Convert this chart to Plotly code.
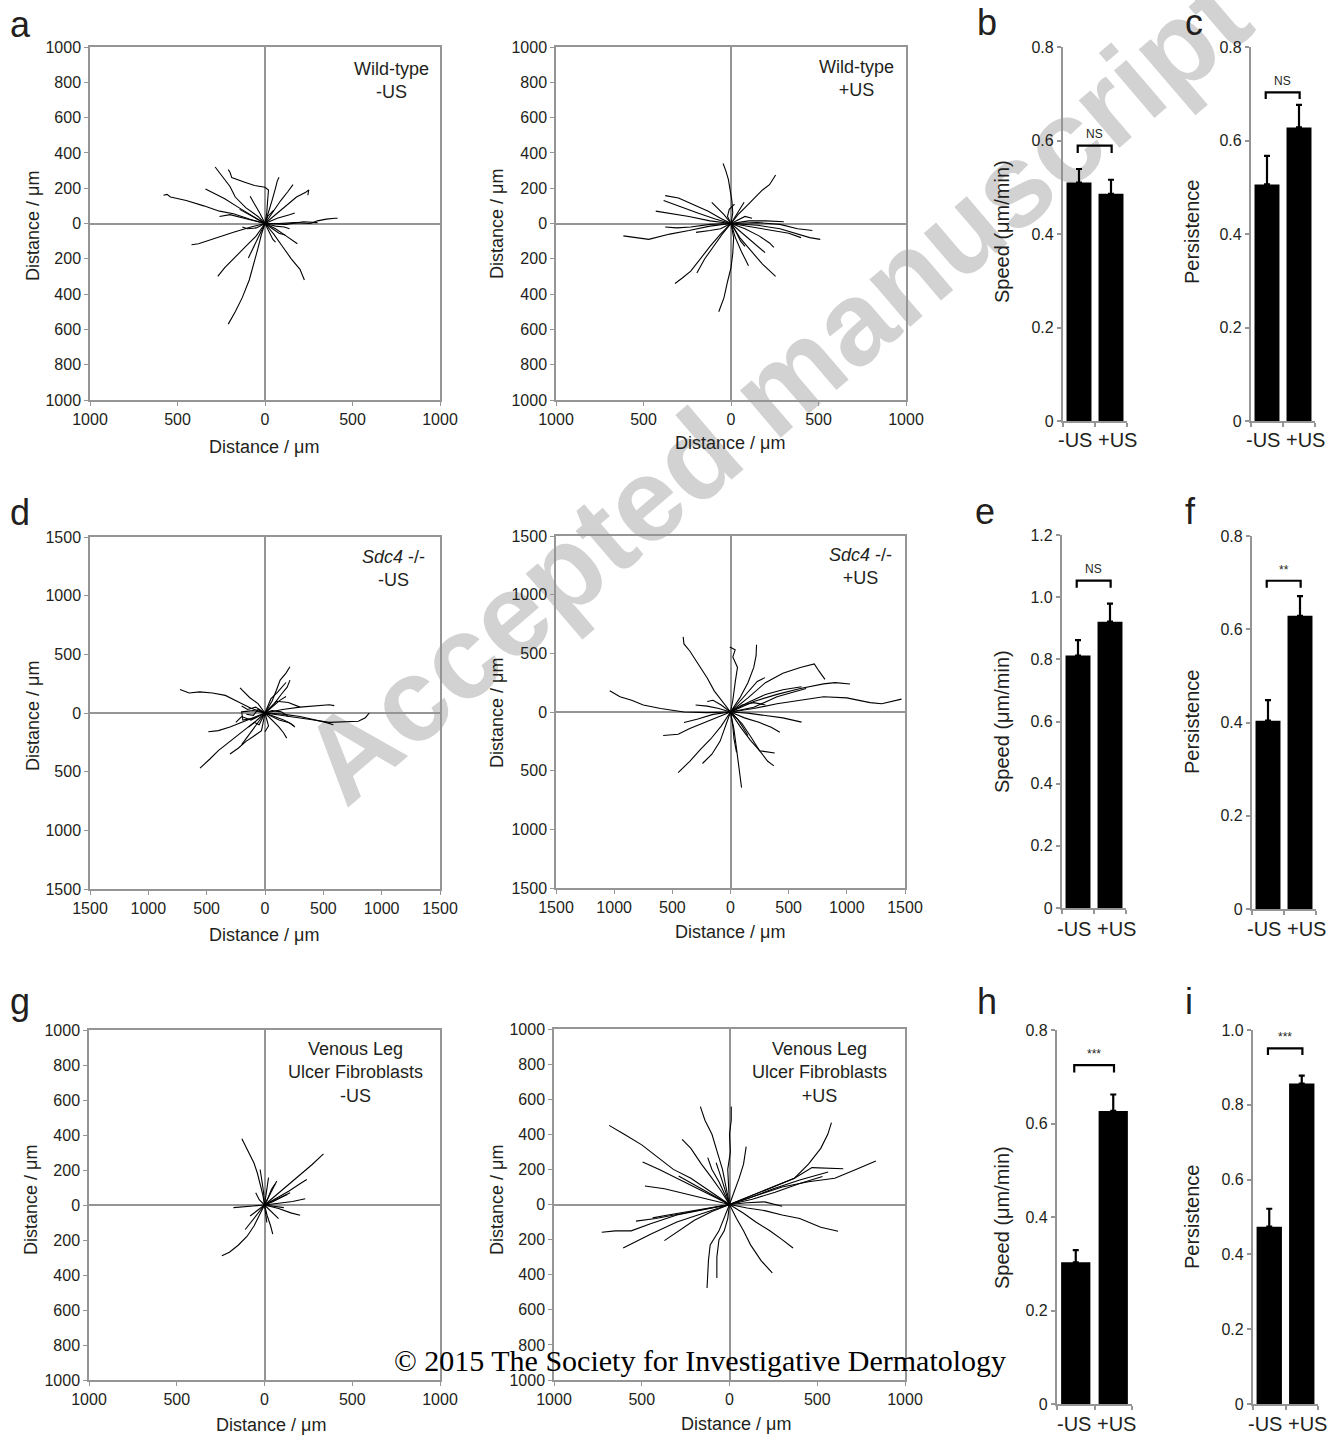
import plotly.graph_objects as go

W, H = 1329, 1439
FONT = "Liberation Sans, Arial, sans-serif"
SERIF = "Liberation Serif, Times New Roman, serif"
GRAY = "#959595"
TXT = "#231f20"
WM = "#d2d2d2"

# ---------------- cell tracks (x, y) in micrometres ----------------
TRACKS_WT_NEG = [
    [(0,0),(-90,25),(-180,55),(-260,70),(-350,100),(-450,130),(-540,150),(-560,165),(-580,160)],
    [(0,0),(-40,40),(-110,90),(-170,150),(-200,210),(-240,260),(-270,300),(-285,320)],
    [(0,0),(10,60),(15,130),(20,190),(0,205),(-60,215),(-120,235),(-190,260),(-200,290),(-210,305)],
    [(0,0),(-70,40),(-150,90),(-230,140),(-300,175),(-340,195)],
    [(0,0),(20,60),(40,130),(60,200),(70,240),(80,262)],
    [(0,0),(40,60),(90,130),(130,180),(160,220)],
    [(0,0),(60,50),(130,110),(180,150),(230,175),(250,190),(245,160)],
    [(0,0),(80,0),(170,5),(260,0),(300,15),(350,25),(400,30),(415,30)],
    [(0,0),(60,-30),(120,-70),(160,-95),(185,-115)],
    [(0,0),(50,-60),(100,-130),(150,-200),(200,-260),(225,-320)],
    [(0,0),(-20,-60),(-40,-140),(-70,-250),(-90,-320),(-130,-420),(-170,-500),(-210,-570)],
    [(0,0),(-50,-70),(-110,-130),(-170,-190),(-230,-250),(-270,-300)],
    [(0,0),(-80,-20),(-180,-50),(-260,-75),(-330,-100),(-380,-115),(-420,-120)],
    [(0,0),(-30,-60),(-60,-120),(-80,-160),(-95,-195)],
    [(0,0),(-30,60),(-60,110),(-85,155)],
    [(0,0),(-60,35),(-110,60),(-145,80)],
    [(0,0),(60,-15),(110,-20),(140,-30)],
    [(0,0),(120,-5),(220,10),(300,5)],
    [(0,0),(40,-30),(80,-55),(115,-65)],
    [(0,0),(15,40),(35,60),(50,75)],
    [(0,0),(-50,-25),(-100,-30),(-130,-20)],
    [(0,0),(25,-50),(45,-90),(60,-105)],
    [(0,0),(-40,10),(-90,20),(-200,50),(-260,40)],
    [(0,0),(70,30),(140,50),(170,60)],
]

TRACKS_WT_POS = [
    [(0,0),(10,60),(5,130),(-5,190),(-15,250),(-30,300),(-45,340)],
    [(0,0),(40,50),(90,100),(140,150),(180,190),(220,220),(245,255),(255,275)],
    [(0,0),(-120,-15),(-240,-40),(-350,-60),(-470,-90),(-560,-80),(-615,-70)],
    [(0,0),(-60,30),(-130,70),(-220,110),(-300,145),(-376,158)],
    [(0,0),(-90,25),(-190,60),(-290,95),(-340,115),(-385,130)],
    [(0,0),(-120,15),(-240,40),(-340,55),(-430,70)],
    [(0,0),(-120,-5),(-230,-20),(-310,-25),(-376,-20)],
    [(0,0),(-60,-60),(-120,-130),(-180,-210),(-230,-270),(-280,-310),(-320,-340)],
    [(0,0),(-50,-60),(-100,-130),(-150,-200),(-195,-280)],
    [(0,0),(15,-80),(10,-170),(0,-250),(-20,-330),(-40,-420),(-70,-500)],
    [(0,0),(50,-80),(110,-150),(180,-230),(255,-300)],
    [(0,0),(25,-80),(60,-160),(100,-240)],
    [(0,0),(60,-50),(120,-100),(170,-140),(195,-165)],
    [(0,0),(80,-30),(160,-70),(220,-110),(245,-135)],
    [(0,0),(150,-10),(280,-30),(390,-60),(450,-80),(510,-90)],
    [(0,0),(150,5),(280,-5),(380,-30),(430,-35),(465,-40)],
    [(0,0),(120,-20),(240,-40),(330,-55),(400,-80)],
    [(0,0),(100,15),(200,15),(302,10)],
    [(0,0),(30,50),(55,90),(75,120)],
    [(0,0),(-40,50),(-80,90),(-110,120)],
    [(0,0),(30,-50),(55,-100),(80,-130)],
    [(0,0),(-60,-30),(-120,-40),(-200,-50)],
    [(0,0),(40,20),(80,40),(120,30)],
    [(0,0),(-20,40),(-10,80),(20,110)],
]

TRACKS_SDC4_NEG = [
    [(0,0),(-120,40),(-240,100),(-340,150),(-450,170),(-560,180),(-650,170),(-729,200)],
    [(0,0),(-80,-70),(-170,-140),(-250,-200),(-330,-260),(-400,-320),(-470,-390),(-557,-470)],
    [(0,0),(-100,-40),(-200,-80),(-300,-120),(-400,-150),(-486,-160)],
    [(0,0),(-60,-80),(-120,-160),(-170,-220),(-200,-270)],
    [(0,0),(150,-20),(300,-40),(420,-60),(550,-80),(700,-75),(800,-70),(860,-40),(894,0)],
    [(0,0),(150,-10),(300,-30),(450,-60),(520,-80),(586,-100)],
    [(0,0),(150,30),(300,50),(450,60),(550,70),(594,63)],
    [(0,0),(60,100),(100,200),(130,280),(180,340),(214,394)],
    [(0,0),(80,80),(140,160),(190,220),(214,280)],
    [(0,0),(-60,80),(-130,130),(-180,180),(-214,214)],
    [(0,0),(60,-60),(120,-120),(160,-170),(186,-214)],
    [(0,0),(80,-30),(160,-60),(220,-90),(257,-120)],
    [(0,0),(20,-60),(30,-110),(0,-160)],
    [(0,0),(-100,20),(-200,10),(-190,-60),(-80,-40)],
    [(0,0),(100,100),(200,90),(300,50)],
    [(0,0),(-80,50),(-150,30),(-200,60)],
    [(0,0),(120,-60),(200,-80),(250,-110)],
    [(0,0),(70,60),(130,110),(180,140)],
    [(0,0),(-50,-100),(-90,-80),(-140,-120)],
    [(0,0),(50,120),(110,180),(180,260)],
    [(0,0),(-120,-60),(-200,-30),(-250,-80)],
    [(0,0),(60,20),(140,10),(200,-30)],
    [(0,0),(-60,30),(-100,-20),(-160,-10)],
    [(0,0),(-30,-150),(-100,-200),(-160,-240),(-230,-300),(-300,-350)],
]

TRACKS_SDC4_POS = [
    [(0,0),(200,30),(400,70),(600,100),(800,130),(1000,120),(1200,80),(1300,70),(1400,95),(1470,110)],
    [(0,0),(200,90),(400,150),(600,200),(800,240),(900,250),(1027,238)],
    [(0,0),(150,120),(300,250),(450,330),(600,380),(720,410),(760,350),(812,278)],
    [(0,0),(150,80),(300,150),(450,190),(611,215)],
    [(0,0),(-200,-5),(-400,0),(-600,30),(-750,60),(-850,100),(-950,130),(-1038,181)],
    [(0,0),(-120,-50),(-250,-100),(-350,-140),(-450,-190),(-579,-200)],
    [(0,0),(-80,-120),(-170,-230),(-260,-320),(-350,-420),(-450,-516)],
    [(0,0),(-40,-120),(-90,-250),(-160,-360),(-241,-439)],
    [(0,0),(-60,80),(-140,180),(-200,290),(-270,400),(-350,520),(-400,580),(-407,640)],
    [(0,0),(20,100),(40,250),(60,380),(20,470),(40,530),(-6,553)],
    [(0,0),(80,120),(150,250),(200,380),(220,480),(224,574)],
    [(0,0),(80,90),(160,180),(230,260),(295,293)],
    [(0,0),(30,-150),(50,-300),(70,-450),(95,-645)],
    [(0,0),(80,-120),(170,-240),(250,-330),(320,-420),(373,-459)],
    [(0,0),(120,-50),(250,-90),(350,-130),(424,-172)],
    [(0,0),(150,-10),(300,-30),(450,-50),(611,-86)],
    [(0,0),(20,-120),(30,-230),(52,-344)],
    [(0,0),(-100,30),(-200,50),(-300,60)],
    [(0,0),(-150,-20),(-280,-60),(-400,-90)],
    [(0,0),(100,-100),(180,-220),(250,-330),(380,-350)],
    [(0,0),(100,60),(200,80),(300,60)],
    [(0,0),(-80,60),(-150,100),(-200,90)],
    [(0,0),(60,-60),(100,-120),(150,-200)],
    [(0,0),(200,40),(400,130),(550,170),(650,200)],
]

TRACKS_VLU_NEG = [
    [(0,0),(-10,60),(-25,120),(-40,180),(-60,240),(-90,300),(-115,350),(-129,378)],
    [(0,0),(60,50),(130,110),(200,170),(270,230),(336,292)],
    [(0,0),(70,40),(140,80),(200,120),(241,146)],
    [(0,0),(80,10),(160,20),(232,36)],
    [(0,0),(80,-20),(150,-45),(203,-59)],
    [(0,0),(-30,-60),(-60,-120),(-100,-180),(-150,-230),(-200,-270),(-243,-290)],
    [(0,0),(-60,-5),(-120,-10),(-177,-15)],
    [(0,0),(15,-60),(35,-120),(47,-167)],
    [(0,0),(-5,70),(-15,140),(-25,203)],
    [(0,0),(10,80),(23,156)],
    [(0,0),(30,60),(50,100),(70,137)],
    [(0,0),(70,35),(146,70)],
    [(0,0),(-40,-30),(-82,-63)],
    [(0,0),(40,-40),(80,-78)],
    [(0,0),(-40,-50),(-80,-100),(-110,-140)],
    [(0,0),(5,-50),(13,-100)],
    [(0,0),(50,20),(100,45),(130,60)],
    [(0,0),(-30,30),(-50,70)],
    [(0,0),(60,-10),(110,-15)],
    [(0,0),(20,40),(40,90),(60,120)],
]

TRACKS_VLU_POS = [
    [(0,0),(-120,80),(-220,150),(-320,200),(-420,280),(-500,340),(-600,400),(-686,451)],
    [(0,0),(-120,60),(-220,110),(-320,160),(-400,200),(-495,242)],
    [(0,0),(-120,30),(-250,60),(-370,90),(-482,105)],
    [(0,0),(-80,45),(-150,80),(-220,120),(-290,162)],
    [(0,0),(-20,100),(-40,200),(-70,300),(-100,400),(-140,480),(-166,558)],
    [(0,0),(-50,80),(-100,150),(-160,230),(-220,320),(-270,371)],
    [(0,0),(-30,70),(-60,130),(-100,200),(-124,267)],
    [(0,0),(-20,70),(-40,130),(-60,190),(-76,238)],
    [(0,0),(-5,100),(-10,200),(5,300),(0,400),(10,480),(10,558)],
    [(0,0),(30,80),(55,150),(80,230),(95,330)],
    [(0,0),(120,50),(250,100),(370,150),(450,230),(520,320),(560,400),(581,467)],
    [(0,0),(120,50),(250,100),(370,150),(470,210),(560,205),(648,204)],
    [(0,0),(150,50),(300,100),(450,130),(600,150),(720,200),(834,248)],
    [(0,0),(120,40),(250,90),(400,140),(562,185)],
    [(0,0),(100,-20),(200,-35),(300,-60),(400,-80),(520,-130),(619,-152)],
    [(0,0),(80,-50),(150,-100),(230,-150),(300,-200),(362,-248)],
    [(0,0),(40,-80),(80,-150),(120,-230),(180,-320),(244,-390)],
    [(0,0),(-10,-80),(-30,-150),(-60,-200),(-72,-300),(-72,-419)],
    [(0,0),(-30,-80),(-60,-150),(-110,-230),(-120,-320),(-128,-476)],
    [(0,0),(-150,-50),(-300,-100),(-450,-170),(-606,-248)],
    [(0,0),(-150,-30),(-300,-60),(-450,-110),(-560,-150),(-650,-150),(-728,-158)],
    [(0,0),(-100,-40),(-200,-90),(-290,-150),(-371,-206)],
    [(0,0),(-120,-20),(-250,-40),(-350,-60),(-438,-76)],
    [(0,0),(-150,-30),(-300,-60),(-420,-80),(-533,-95)],
    [(0,0),(130,30),(260,70),(400,120),(530,160)],
    [(0,0),(100,10),(200,15),(300,-10)],
]

# ---------------- bar chart data ----------------
GROUPS = ["-US", "+US"]
WT_SPEED = [0.510, 0.486]
WT_SPEED_ERR = [0.029, 0.030]
WT_PERSIST = [0.506, 0.628]
WT_PERSIST_ERR = [0.061, 0.048]
SDC4_SPEED = [0.812, 0.921]
SDC4_SPEED_ERR = [0.050, 0.058]
SDC4_PERSIST = [0.404, 0.629]
SDC4_PERSIST_ERR = [0.044, 0.042]
VLU_SPEED = [0.303, 0.627]
VLU_SPEED_ERR = [0.026, 0.035]
VLU_PERSIST = [0.474, 0.857]
VLU_PERSIST_ERR = [0.048, 0.021]

SIG_LABELS = ["NS", "NS", "NS", "**", "***", "***"]
SIG_BRACKET_TOP = [0.589, 0.703, 1.053, 0.704, 0.725, 0.951]
SIG_BRACKET_LEG = [0.573, 0.689, 1.030, 0.689, 0.709, 0.933]

TRACK_TICKS_1000 = [-1000, -800, -600, -400, -200, 0, 200, 400, 600, 800, 1000]
TRACK_XTICKS_1000 = [-1000, -500, 0, 500, 1000]
TRACK_TICKS_1500 = [-1500, -1000, -500, 0, 500, 1000, 1500]

# ---------------- figure ----------------
fig = go.Figure()


def axname(n, kind):
    return f"{kind}axis" if n == 1 else f"{kind}axis{n}"


def axref(n, kind):
    return kind if n == 1 else f"{kind}{n}"


def px2x(p):
    return p / W


def px2y(p):
    return 1 - p / H


layout_axes = {}
annotations = []
shapes = []

track_panels = [
    (TRACKS_WT_NEG, (90, 440, 47, 400), 1000, TRACK_XTICKS_1000, TRACK_TICKS_1000,
     "Wild-type<br>-US", (391, 57), (264, 447), (33, 226)),
    (TRACKS_WT_POS, (556, 906, 47, 400), 1000, TRACK_XTICKS_1000, TRACK_TICKS_1000,
     "Wild-type<br>+US", (857, 55), (730, 443), (497, 224)),
    (TRACKS_SDC4_NEG, (90, 440, 537, 889), 1500, TRACK_TICKS_1500, TRACK_TICKS_1500,
     "<i>Sdc4</i> -/-<br>-US", (393, 545), (264, 935), (33, 716)),
    (TRACKS_SDC4_POS, (556, 905, 536, 888), 1500, TRACK_TICKS_1500, TRACK_TICKS_1500,
     "<i>Sdc4</i> -/-<br>+US", (860, 543), (730, 932), (497, 713)),
    (TRACKS_VLU_NEG, (89, 440, 1030, 1380), 1000, TRACK_XTICKS_1000, TRACK_TICKS_1000,
     "Venous Leg<br>Ulcer Fibroblasts<br>-US", (355, 1037), (271, 1425), (31, 1200)),
    (TRACKS_VLU_POS, (554, 905, 1029, 1380), 1000, TRACK_XTICKS_1000, TRACK_TICKS_1000,
     "Venous Leg<br>Ulcer Fibroblasts<br>+US", (819, 1037), (736, 1424), (497, 1200)),
]

n = 0
for tracks, (x0, x1, yt, yb), lim, xt, yt_ticks, label, lpos, xtpos, ytpos in track_panels:
    n += 1
    xs, ys = [], []
    for tr in tracks:
        for (a, b) in tr:
            xs.append(a)
            ys.append(b)
        xs.append(None)
        ys.append(None)
    fig.add_trace(go.Scatter(x=xs, y=ys, mode="lines",
                             line=dict(color="black", width=1.1),
                             xaxis=axref(n, "x"), yaxis=axref(n, "y"),
                             hoverinfo="skip", showlegend=False))
    common = dict(showline=True, mirror=True, linecolor=GRAY, linewidth=1.5,
                  zeroline=True, zerolinecolor=GRAY, zerolinewidth=1.5,
                  showgrid=False, ticks="outside", ticklen=4, tickwidth=1.2,
                  tickcolor=GRAY, tickfont=dict(size=16, color=TXT, family=FONT),
                  range=[-lim, lim], fixedrange=True, automargin=False)
    layout_axes[axname(n, "x")] = dict(domain=[px2x(x0), px2x(x1)], anchor=axref(n, "y"),
                                       tickvals=xt, ticktext=[str(abs(v)) for v in xt], **common)
    layout_axes[axname(n, "y")] = dict(domain=[px2y(yb), px2y(yt)], anchor=axref(n, "x"),
                                       tickvals=yt_ticks, ticktext=[str(abs(v)) for v in yt_ticks], **common)
    annotations.append(dict(text=label, x=px2x(lpos[0]), y=px2y(lpos[1]), xref="paper", yref="paper",
                            xanchor="center", yanchor="top", align="center", showarrow=False,
                            font=dict(size=18, color=TXT, family=FONT)))
    annotations.append(dict(text="Distance / \u03bcm", x=px2x(xtpos[0]), y=px2y(xtpos[1]),
                            xref="paper", yref="paper", xanchor="center", yanchor="middle",
                            showarrow=False, font=dict(size=18, color=TXT, family=FONT)))
    annotations.append(dict(text="Distance / \u03bcm", x=px2x(ytpos[0]), y=px2y(ytpos[1]),
                            xref="paper", yref="paper", xanchor="center", yanchor="middle",
                            textangle=-90, showarrow=False, font=dict(size=18, color=TXT, family=FONT)))

bar_panels = [
    (WT_SPEED, WT_SPEED_ERR, (1063, 1127, 47, 421), 0.8, "Speed (\u03bcm/min)", (1002, 232), 440),
    (WT_PERSIST, WT_PERSIST_ERR, (1251, 1315, 47, 421), 0.8, "Persistence", (1192, 232), 440),
    (SDC4_SPEED, SDC4_SPEED_ERR, (1062, 1126, 535, 908), 1.2, "Speed (\u03bcm/min)", (1002, 722), 929),
    (SDC4_PERSIST, SDC4_PERSIST_ERR, (1252, 1316, 536, 909), 0.8, "Persistence", (1192, 722), 929),
    (VLU_SPEED, VLU_SPEED_ERR, (1057, 1132, 1030, 1404), 0.8, "Speed (\u03bcm/min)", (1002, 1218), 1424),
    (VLU_PERSIST, VLU_PERSIST_ERR, (1253, 1318, 1030, 1404), 1.0, "Persistence", (1192, 1217), 1424),
]

for k, (vals, errs, (x0, x1, yt, yb), ymax, ytitle, ypos, labely) in enumerate(bar_panels):
    n += 1
    fig.add_trace(go.Bar(x=[0, 1], y=vals, width=0.78, marker=dict(color="black", line=dict(width=0)),
                         error_y=dict(type="data", array=errs, arrayminus=[0, 0], symmetric=False,
                                      color="black", thickness=2.2, width=3),
                         xaxis=axref(n, "x"), yaxis=axref(n, "y"), hoverinfo="skip", showlegend=False))
    nt = int(round(ymax / 0.2))
    yvals = [round(i * 0.2, 1) for i in range(nt + 1)]
    ytext = ["0"] + [f"{v:.1f}" for v in yvals[1:]]
    layout_axes[axname(n, "x")] = dict(domain=[px2x(x0), px2x(x1)], anchor=axref(n, "y"),
                                       range=[-0.5, 1.5], tickvals=[-0.5, 0.5, 1.5],
                                       showticklabels=False, ticks="outside", ticklen=4,
                                       tickwidth=1.5, tickcolor=GRAY, showline=True,
                                       linecolor=GRAY, linewidth=2.2, zeroline=False,
                                       showgrid=False, fixedrange=True, automargin=False)
    layout_axes[axname(n, "y")] = dict(domain=[px2y(yb), px2y(yt)], anchor=axref(n, "x"),
                                       range=[0, ymax], tickvals=yvals, ticktext=ytext,
                                       ticks="outside", ticklen=4, tickwidth=1.5, tickcolor=GRAY,
                                       showline=True, linecolor=GRAY, linewidth=2.2,
                                       zeroline=False, showgrid=False, fixedrange=True,
                                       automargin=False,
                                       tickfont=dict(size=16, color=TXT, family=FONT))
    top, leg = SIG_BRACKET_TOP[k], SIG_BRACKET_LEG[k]
    shapes.append(dict(type="path", xref=axref(n, "x"), yref=axref(n, "y"),
                       path=f"M -0.04,{leg} L -0.04,{top} L 1.02,{top} L 1.02,{leg}",
                       line=dict(color="black", width=2.2)))
    annotations.append(dict(text=SIG_LABELS[k], x=0.49, y=top + ymax * 0.006,
                            xref=axref(n, "x"), yref=axref(n, "y"), xanchor="center",
                            yanchor="bottom", showarrow=False,
                            font=dict(size=12, color=TXT, family=FONT)))
    annotations.append(dict(text=ytitle, x=px2x(ypos[0]), y=px2y(ypos[1]), xref="paper", yref="paper",
                            xanchor="center", yanchor="middle", textangle=-90, showarrow=False,
                            font=dict(size=20, color=TXT, family=FONT)))
    annotations.append(dict(text=" ".join(GROUPS), x=px2x((x0 + x1) / 2 + 2), y=px2y(labely),
                            xref="paper", yref="paper", xanchor="center", yanchor="middle",
                            showarrow=False, font=dict(size=20, color=TXT, family=FONT)))

# panel letters
for letter, (lx, ly) in zip("abcdefghi", [(8, 24), (975, 22), (1183, 22), (8, 512), (973, 511),
                                          (1183, 511), (8, 1001), (975, 1002), (1183, 1002)]):
    annotations.append(dict(text=letter, x=px2x(lx), y=px2y(ly), xref="paper", yref="paper",
                            xanchor="left", yanchor="middle", showarrow=False,
                            font=dict(size=36, color=TXT, family=FONT)))

# copyright line
annotations.append(dict(text="\u00a9 2015 The Society for Investigative Dermatology",
                        x=px2x(700), y=px2y(1360), xref="paper", yref="paper",
                        xanchor="center", yanchor="middle", showarrow=False,
                        font=dict(size=30, color="black", family=SERIF)))

# watermark (behind the charts), running up-right at about 40 degrees
shapes.append(dict(type="line", xref="paper", yref="paper", layer="below",
                   x0=px2x(312), y0=px2y(770), x1=px2x(1224), y1=px2y(-10),
                   line=dict(color="rgba(0,0,0,0)", width=1),
                   label=dict(text="Accepted manuscript", textposition="middle", yanchor="middle",
                              font=dict(size=118, color=WM, family=FONT, weight="bold"))))

fig.update_layout(width=W, height=H,
                  margin=dict(l=0, r=0, t=0, b=0, pad=0, autoexpand=False),
                  paper_bgcolor="white", plot_bgcolor="rgba(0,0,0,0)",
                  showlegend=False, annotations=annotations, shapes=shapes,
                  font=dict(family=FONT, color=TXT), **layout_axes)

fig.write_html("out.html", config={"displayModeBar": False},
               post_script="document.body.style.margin='0';document.body.style.padding='0';")
